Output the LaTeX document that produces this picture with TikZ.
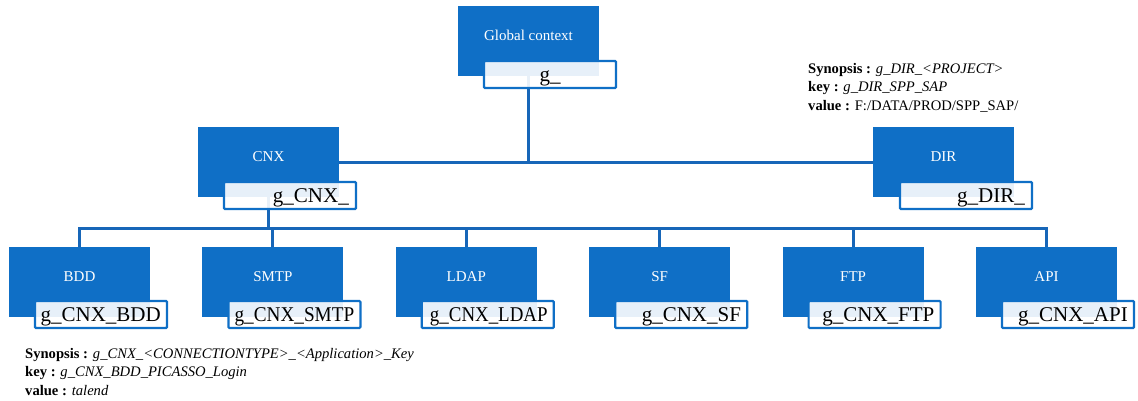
\documentclass[tikz,border=0pt]{standalone}
\usepackage{fontspec}
\setmainfont{Liberation Serif}
\definecolor{boxblue}{HTML}{0F6FC6}
\definecolor{linkblue}{HTML}{1766B8}
\begin{document}
\begin{tikzpicture}[x=1pt,y=-1pt,
  unit/.style={fill=boxblue, minimum width=141pt, minimum height=70pt,
    anchor=north west, inner sep=0pt, outer sep=0pt},
  unittext/.style={text=white, anchor=base, inner sep=0pt,
    font=\fontsize{15}{18}\selectfont},
  tag/.style={draw=boxblue, line width=2.2pt, fill=white, fill opacity=0.9,
    minimum width=132pt, minimum height=27pt, anchor=north west,
    inner sep=0pt, outer sep=0pt, rounded corners=1pt},
  tagtext/.style={anchor=base east, inner sep=0pt,
    font=\fontsize{21}{24}\selectfont},
  note/.style={anchor=base west, inner sep=0pt,
    font=\fontsize{14.6}{17}\selectfont},
  link/.style={draw=linkblue, line width=3pt}
]
\useasboundingbox (0,0) rectangle (1138,400);

% top level
\node[unit] (glob) at (458,6) {};
\node[unittext] at ([yshift=1pt]glob.center) {Global context};
\node[unit] (cnx) at (198,127) {};
\node[unittext] at ([yshift=1pt]cnx.center) {CNX};
\node[unit] (dir) at (873,127) {};
\node[unittext] at ([yshift=1pt]dir.center) {DIR};

% second level
\foreach \n/\t [count=\i from 0] in {bdd/BDD, smtp/SMTP, ldap/LDAP, sf/SF, ftp/FTP, api/API}{
  \node[unit] (\n) at ({9+193.4*\i},247) {};
  \node[unittext] at ([yshift=1pt]\n.center) {\t};
}

% connectors
\coordinate (busy) at (0,228);
\draw[link] (cnx.east) -- (dir.west);
\draw[link] (glob.south) -- (glob.south |- cnx.east);
\draw[link] (cnx.south) -- (cnx.south |- busy);
\draw[link] (bdd.north) -- (bdd.north |- busy) -- (api.north |- busy) -- (api.north);
\foreach \n in {smtp, ldap, sf, ftp}{
  \draw[link] (\n.north) -- (\n.north |- busy);
}

% key tags
\node[tag] (gtag) at (484,61) {};
\node[anchor=base, inner sep=0pt, font=\fontsize{21}{24}\selectfont]
  at ([yshift=7pt]gtag.south) {g\_};
\node[tag] (ctag) at (224,182) {};
\node[tagtext] at ([xshift=-7pt,yshift=7pt]ctag.south east) {g\_CNX\_};
\node[tag] (dtag) at (900,182) {};
\node[tagtext] at ([xshift=-7pt,yshift=7pt]dtag.south east) {g\_DIR\_};
\foreach \n/\t/\s [count=\i from 0] in {bdd/BDD/1, smtp/SMTP/0.915, ldap/LDAP/0.9, sf/SF/1, ftp/FTP/1, api/API/1}{
  \node[tag] (\n tag) at ({35+193.4*\i},301) {};
  \node[tagtext] at ([xshift=-6pt,yshift=7pt]\n tag.south east) {\scalebox{\s}[1]{g\_CNX\_\t}};
}

% notes
\node[note] (dn1) at (808,73) {\textbf{Synopsis :} \textit{g\_DIR\_\textless PROJECT\textgreater}};
\node[note] (dn2) at (808,91.5) {\textbf{key :} \textit{g\_DIR\_SPP\_SAP}};
\node[note] (dn3) at (808,110) {\textbf{value :} F:/DATA/PROD/SPP\_SAP/};
\node[note] (cn1) at (25,358) {\textbf{Synopsis :} \textit{g\_CNX\_\textless CONNECTIONTYPE\textgreater\_\textless Application\textgreater\_Key}};
\node[note] (cn2) at (25,376.5) {\textbf{key :} \textit{g\_CNX\_BDD\_PICASSO\_Login}};
\node[note] (cn3) at (25,395) {\textbf{value :} \textit{talend}};
\end{tikzpicture}
\end{document}
